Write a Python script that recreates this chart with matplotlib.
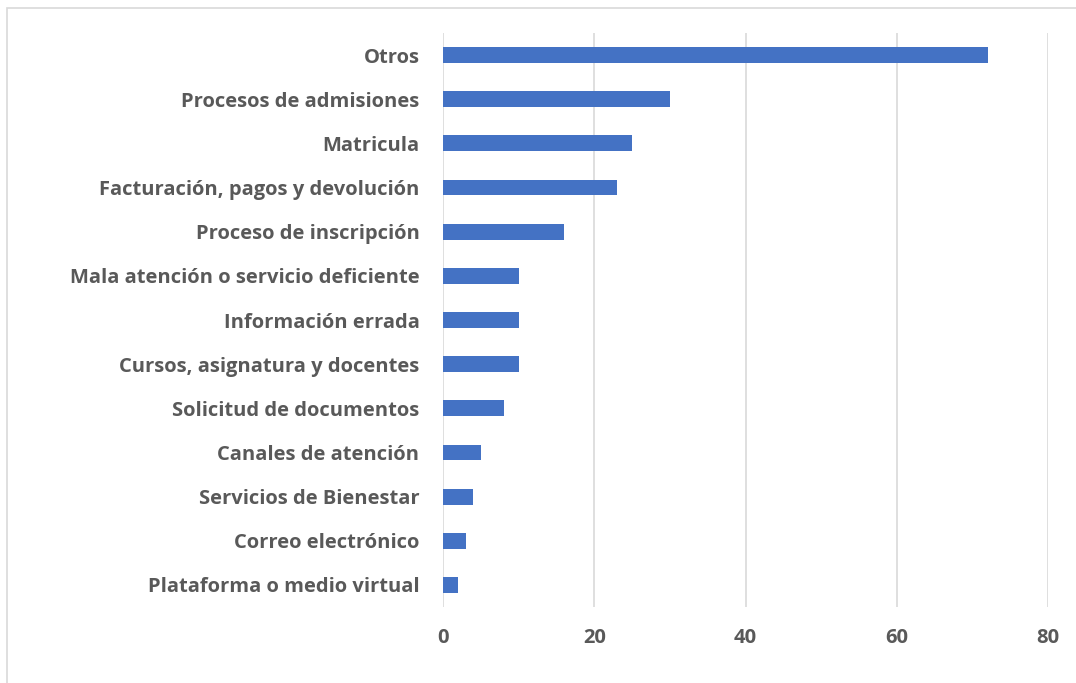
import matplotlib
matplotlib.use("Agg")
import matplotlib.pyplot as plt
from matplotlib.patches import Rectangle

categories = [
    "Plataforma o medio virtual",
    "Correo electrónico",
    "Servicios de Bienestar",
    "Canales de atención",
    "Solicitud de documentos",
    "Cursos, asignatura y docentes",
    "Información errada",
    "Mala atención o servicio deficiente",
    "Proceso de inscripción",
    "Facturación, pagos y devolución",
    "Matricula",
    "Procesos de admisiones",
    "Otros",
]
values = [2, 3, 4, 5, 8, 10, 10, 10, 16, 23, 25, 30, 72]
xticks = [0, 20, 40, 60, 80]

W, H = 1076, 683
fig = plt.figure(figsize=(W / 100, H / 100), dpi=100)
fig.patch.set_facecolor("white")

# outer chart frame (cut off at right/bottom)
fig.patches.append(Rectangle((7 / W, -0.1), 1.2, (H - 8) / H + 0.1,
                             transform=fig.transFigure, fill=False,
                             edgecolor="#d9d9d9", linewidth=1.2, zorder=0))

ax = fig.add_axes([443 / W, 1 - 607 / H, (1048 - 443) / W, (607 - 33) / H])
y = list(range(len(categories)))
ax.barh(y, values, height=0.36, color="#4472C4", zorder=3)
ax.set_ylim(-0.5, len(categories) - 0.5)
ax.set_xlim(0, 80)
ax.set_xticks(xticks)
ax.set_yticks(y)
ax.set_yticklabels(categories)
ax.grid(axis="x", color="#d9d9d9", linewidth=1.2, zorder=0)
for s in ax.spines.values():
    s.set_visible(False)
ax.tick_params(axis="both", length=0, colors="#595959")
ax.tick_params(axis="y", pad=17)
ax.tick_params(axis="x", pad=15)
for lab in ax.get_yticklabels() + ax.get_xticklabels():
    lab.set_fontfamily("Open Sans")
    lab.set_fontweight("bold")
    lab.set_fontsize(14.5)
    lab.set_color("#595959")

fig.savefig("out.png", dpi=100)
